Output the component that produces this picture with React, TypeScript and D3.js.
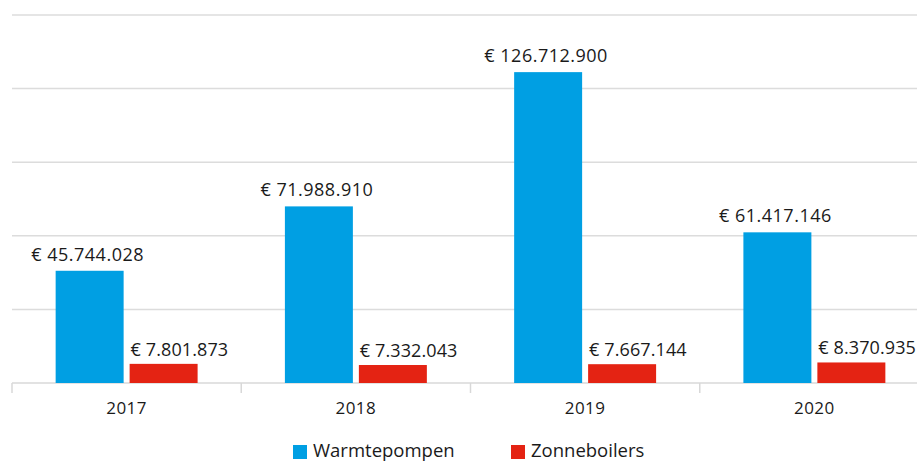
import React from "react";
import * as d3 from "d3";

const years = ["2017", "2018", "2019", "2020"];
const seriesNames = ["Warmtepompen", "Zonneboilers"];
const warmtepompen = [45744028, 71988910, 126712900, 61417146];
const zonneboilers = [7801873, 7332043, 7667144, 8370935];
const gridTicks = [30000000, 60000000, 90000000, 120000000, 150000000];
const colors = ["#009FE3", "#E42313"];

const W = 917;
const H = 463;
const left = 12;
const baseY = 383;
const topY = 15;

const fmt = (v: number) => "€ " + d3.format(",")(v).replace(/,/g, ".");

export default function App() {
  const x = d3.scaleBand<string>().domain(years).range([left, left + 4 * 229.25]).padding(0);
  const bw = x.bandwidth();
  const x1 = d3.scaleBand<string>().domain(seriesNames).range([0, bw]).paddingInner(0.081).paddingOuter(0.59);
  const y = d3.scaleLinear().domain([0, 150000000]).range([baseY, topY]);
  const series = [warmtepompen, zonneboilers];
  const font = "'Open Sans', 'Noto Sans', sans-serif";

  return (
    <svg width={W} height={H} style={{ position: "absolute", left: 0, top: 0, background: "#fff" }} fontFamily={font}>
      {gridTicks.map((t) => (
        <line key={t} x1={left} x2={W} y1={y(t)} y2={y(t)} stroke="#dcdcdc" strokeWidth={1.5} />
      ))}
      <line x1={left} x2={W} y1={baseY} y2={baseY} stroke="#d8d8d8" strokeWidth={1.5} />
      {years.map((yr) => (
        <line key={"t" + yr} x1={x(yr)!} x2={x(yr)!} y1={baseY} y2={baseY + 10} stroke="#d8d8d8" strokeWidth={1.5} />
      ))}
      {series.map((vals, si) =>
        years.map((yr, i) => {
          const bx = x(yr)! + x1(seriesNames[si])!;
          const by = y(vals[i]);
          return (
            <g key={si + "-" + yr}>
              <rect x={bx} y={by} width={x1.bandwidth()} height={baseY - by} fill={colors[si]} />
              <text
                x={si === 0 ? bx + x1.bandwidth() / 2 - 2 : bx + 1}
                y={by - (si === 0 ? 10 : 8)}
                textAnchor={si === 0 ? "middle" : "start"}
                fontSize={18}
                letterSpacing={si === 0 ? 0.5 : 0.1}
                fill="#1a1a1a"
              >
                {fmt(vals[i])}
              </text>
            </g>
          );
        })
      )}
      {years.map((yr) => (
        <text key={"l" + yr} x={x(yr)! + bw / 2} y={414} textAnchor="middle" fontSize={17} letterSpacing={0.5} fill="#1a1a1a">
          {yr}
        </text>
      ))}
      {seriesNames.map((s, i) => {
        const lx = i === 0 ? 293 : 511;
        return (
          <g key={s}>
            <rect x={lx} y={445} width={14} height={14} fill={colors[i]} />
            <text x={lx + 20} y={457} fontSize={18.5} fill="#1a1a1a">
              {s}
            </text>
          </g>
        );
      })}
    </svg>
  );
}
